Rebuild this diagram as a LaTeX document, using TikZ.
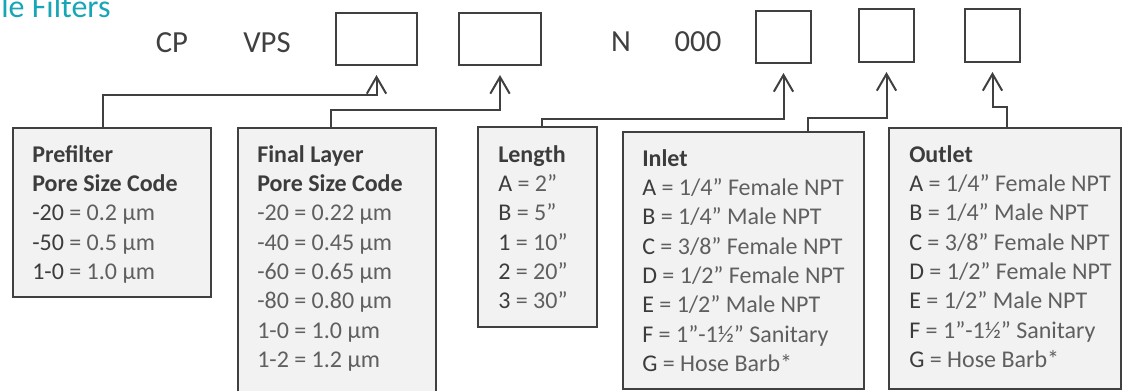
\documentclass[tikz,border=0pt]{standalone}
\usepackage{fontspec}
\setmainfont{Carlito}
\usepackage{tikz}
\usetikzlibrary{positioning, arrows.meta, calc}
\definecolor{LineColor}{RGB}{64,64,64}
\definecolor{PanelColor}{RGB}{242,242,242}
\definecolor{CodeColor}{RGB}{60,60,60}
\definecolor{ValueColor}{RGB}{95,95,95}
\definecolor{TitleColor}{RGB}{22,166,182}
\newcommand{\cd}[1]{\textcolor{CodeColor}{#1}}
\newcommand{\hd}[1]{\textcolor{CodeColor}{\bfseries #1}}
\tikzset{
  slot/.style={draw=LineColor, line width=1.5pt, anchor=north west, inner sep=0pt},
  panel/.style={draw=LineColor, line width=1.5pt, fill=PanelColor, anchor=north west, inner sep=0pt},
  panel text/.style={anchor=north west, inner sep=0pt, align=left, text=ValueColor,
    font=\fontsize{18}{22}\selectfont},
  part/.style={anchor=base, inner sep=0pt, text=LineColor, font=\fontsize{23}{27}\selectfont},
  link/.style={draw=LineColor, line width=1.5pt, -{Straight Barb[length=12.5pt,width=14.5pt]}}
}

\begin{document}
\begin{tikzpicture}[x=0.75pt, y=-0.75pt]
  \useasboundingbox (0,0) rectangle (1122,390);
  \clip (0,0) rectangle (1122,390);

  % Title (cut off at the page edge)
  \node[anchor=base west, inner sep=0pt, text=TitleColor, font=\fontsize{24}{28}\selectfont] (title) at (1,17) {le Filters};

  % Part number
  \node[part] (cp) at (172,52) {CP};
  \node[part] (vps) at (267,52) {VPS};
  \node[part] (n) at (621,51) {N};
  \node[part] (zeros) at (698,51) {000};

  % Empty code slots
  \node[slot, minimum width=81*0.75pt, minimum height=52*0.75pt] (slotA) at (335,12) {};
  \node[slot, minimum width=82*0.75pt, minimum height=52*0.75pt] (slotB) at (458,12) {};
  \node[slot, minimum width=55*0.75pt, minimum height=52*0.75pt] (slotC) at (755,10) {};
  \node[slot, minimum width=55*0.75pt, minimum height=53*0.75pt] (slotD) at (858,8) {};
  \node[slot, minimum width=55*0.75pt, minimum height=53*0.75pt] (slotE) at (964,8) {};

  % Panels
  \node[panel, minimum width=198*0.75pt, minimum height=169*0.75pt] (prebox) at (12,127) {};
  \node[panel, minimum width=198*0.75pt, minimum height=280*0.75pt] (finalbox) at (237,127) {};
  \node[panel, minimum width=119*0.75pt, minimum height=200*0.75pt] (lenbox) at (477,126) {};
  \node[panel, minimum width=241*0.75pt, minimum height=257*0.75pt] (inletbox) at (622,131) {};
  \node[panel, minimum width=232*0.75pt, minimum height=261*0.75pt] (outletbox) at (888,127) {};

  % Panel texts
  \node[panel text] (pretext) at (32,145) {\hd{Prefilter}\\ \hd{Pore Size Code}\\
    \cd{-20} = 0.2 µm\\ \cd{-50} = 0.5 µm\\ \cd{1-0} = 1.0 µm};
  \node[panel text] (finaltext) at (257,145) {\hd{Final Layer}\\ \hd{Pore Size Code}\\
    -20 = 0.22 µm\\ -40 = 0.45 µm\\ -60 = 0.65 µm\\ -80 = 0.80 µm\\ 1-0 = 1.0 µm\\ 1-2 = 1.2 µm};
  \node[panel text] (lentext) at (498,145) {\hd{Length}\\
    \cd{A} = 2”\\ \cd{B} = 5”\\ \cd{1} = 10”\\ \cd{2} = 20”\\ \cd{3} = 30”};
  \node[panel text] (inlettext) at (642,149) {\hd{Inlet}\\
    \cd{A} = 1/4” Female NPT\\ \cd{B} = 1/4” Male NPT\\ \cd{C} = 3/8” Female NPT\\
    \cd{D} = 1/2” Female NPT\\ \cd{E} = 1/2” Male NPT\\ \cd{F} = 1”-1½” Sanitary\\ \cd{G} = Hose Barb*};
  \node[panel text] (outlettext) at (909,145) {\hd{Outlet}\\
    \cd{A} = 1/4” Female NPT\\ \cd{B} = 1/4” Male NPT\\ \cd{C} = 3/8” Female NPT\\
    \cd{D} = 1/2” Female NPT\\ \cd{E} = 1/2” Male NPT\\ \cd{F} = 1”-1½” Sanitary\\ \cd{G} = Hose Barb*};

  % Connectors
  \draw[link] ($(prebox.north west)+(91,0)$) |- ($(slotA.south)+(0,29)$) -- ($(slotA.south)+(0,9)$);
  \draw[link] ($(finalbox.north west)+(94,0)$) |- ($(slotB.south)+(0,44)$) -- ($(slotB.south)+(0,9)$);
  \draw[link] ($(lenbox.north west)+(65,0)$) |- ($(slotC.south)+(0,55)$) -- ($(slotC.south)+(0,9)$);
  \draw[link] ($(inletbox.north west)+(186,0)$) |- ($(slotD.south)+(0,55)$) -- ($(slotD.south)+(0,9)$);
  \draw[link] ($(outletbox.north west)+(119,0)$) |- ($(slotE.south)+(0,44)$) -- ($(slotE.south)+(0,9)$);
\end{tikzpicture}
\end{document}
